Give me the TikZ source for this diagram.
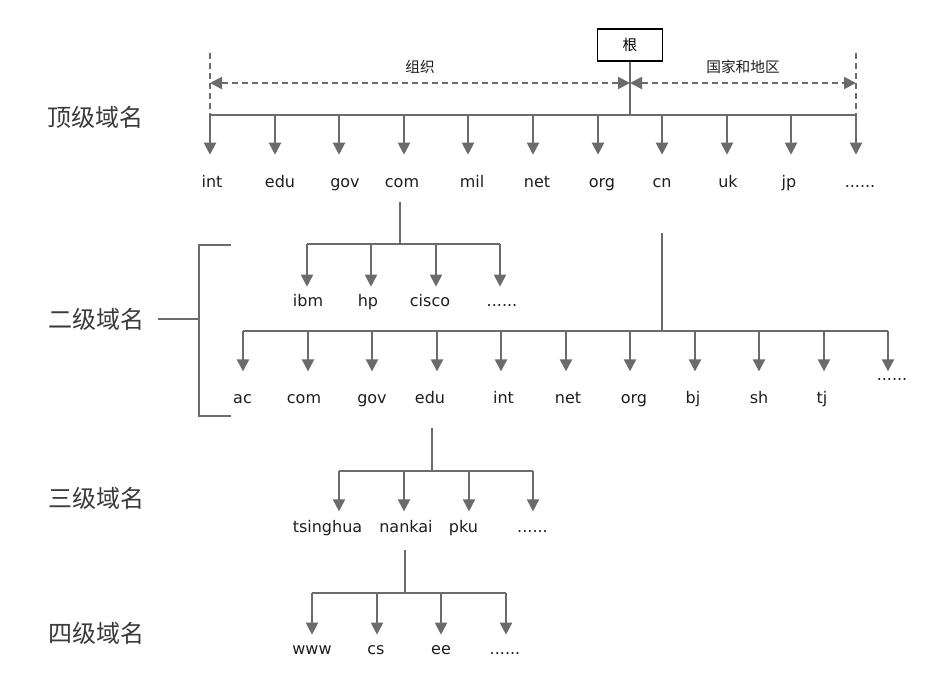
\documentclass[tikz,border=0pt]{standalone}
\usepackage{fontspec}
\setmainfont{DejaVu Sans}
\newfontfamily\cjk{Noto Sans CJK SC}
\usetikzlibrary{calc,positioning,arrows.meta}
\definecolor{lineg}{HTML}{6B6B6B}
\definecolor{textg}{HTML}{1E1E1E}
\definecolor{levelg}{HTML}{3A3A3A}
\newcommand{\sixdots}{......}

\begin{document}
\begin{tikzpicture}[x=0.75pt,y=-0.75pt,>={Triangle[width=9pt,length=9pt]},
  line/.style={draw=lineg,line width=1.5pt},
  dashline/.style={line,dash pattern=on 4.5pt off 3pt},
  lbl/.style={font=\fontsize{12}{14}\selectfont,text=textg,inner sep=0pt,text height=8.5pt,text depth=2.5pt},
  level/.style={font=\cjk\fontsize{18}{20}\selectfont,text=levelg},
  small/.style={font=\cjk\fontsize{11}{13}\selectfont,text=textg},
  rootbox/.style={draw=black,line width=0.8pt,fill=white,minimum width=49pt,minimum height=24pt,font=\cjk\fontsize{11}{13}\selectfont}]
      \fill[white] (0,0) rectangle (928,689);
      \useasboundingbox (0,0) rectangle (928,689);

      \node[level] (lv1) at (95,117) {顶级域名};
      \node[level] (lv2) at (96,319) {二级域名};
      \node[level] (lv3) at (96,498) {三级域名};
      \node[level] (lv4) at (96,633) {四级域名};

      % top level
      \node[rootbox] (root) at (630,45) {根};
      \foreach \lab/\x [count=\i] in {int/212,edu/280,gov/345,com/402,mil/472,net/537,org/602,cn/662,uk/728,jp/789,\sixdots/860}
        \node[lbl] (t\i) at (\x,183) {\lab};
      \foreach \i in {1,...,11}
        \coordinate (tb\i) at ({round(210+64.6*(\i-1))},115);
      \coordinate (rj) at (root.south |- tb1);
      \draw[line] (root) -- (rj);
      \draw[line] (tb1) -- (tb11);
      \foreach \i in {1,...,11}
        \draw[line,->,shorten >=15.5pt] (tb\i) -- (tb\i |- t\i.north);

      \coordinate (dl) at (210,53);
      \coordinate (dr) at (856,53);
      \coordinate (da) at (210,83);
      \coordinate (db) at (rj |- da);
      \coordinate (dc) at (856,83);
      \draw[dashline] (dl) -- (tb1);
      \draw[dashline] (dr) -- (tb11);
      \draw[dashline,<->] (da) -- node[small,midway,yshift=12pt]{组织} (db);
      \draw[dashline,<->] (db) -- node[small,midway,yshift=12pt]{国家和地区} (dc);

      % second level
      \coordinate (c0) at (400,244);
      \draw[line,shorten <=8.5pt] (c0 |- t4.south) -- (c0);
      \foreach \lab/\x [count=\i] in {ibm/308,hp/368,cisco/430,\sixdots/502}
        \node[lbl] (c\i) at (\x,302) {\lab};
      \foreach \i in {1,...,4}
        \coordinate (cb\i) at ({round(306.5+64.5*(\i-1))},244);
      \draw[line] (cb1) -- (cb4);
      \foreach \i in {1,...,4}
        \draw[line,->,shorten >=5.8pt] (cb\i) -- (cb\i |- c\i.north);

      \coordinate (n0) at (662,331);
      \draw[line,shorten <=32pt] (n0 |- t8.south) -- (n0);
      \foreach \lab/\x [count=\i] in {ac/242.5,com/304,gov/372,edu/430,int/503.5,net/568,org/634,bj/693,sh/759,tj/822}
        \node[lbl] (s\i) at (\x,399) {\lab};
      \node[lbl] (s11) at (892,376) {\sixdots};
      \foreach \i in {1,...,11}
        \coordinate (sb\i) at ({round(243+64.5*(\i-1))},331);
      \draw[line] (sb1) -- (sb11);
      \foreach \i in {1,...,10}
        \draw[line,->,shorten >=15pt] (sb\i) -- (sb\i |- s\i.north);
      \draw[line,->,shorten >=-2.2pt] (sb11) -- (sb11 |- s11.north);

      \coordinate (bm) at (199,319);
      \coordinate (bt) at (231,245);
      \coordinate (bb) at (231,416);
      \draw[line] (bt) -- (bt -| bm) -- (bb -| bm) -- (bb);
      \draw[line,shorten <=7.3pt] (lv2.east) -- (bm);

      % third level
      \coordinate (e0) at (432,471);
      \draw[line,shorten <=16.3pt] (e0 |- s4.south) -- (e0);
      \foreach \lab/\x [count=\i] in {tsinghua/327.5,nankai/406,pku/463.5,\sixdots/532.5}
        \node[lbl] (u\i) at (\x,528) {\lab};
      \foreach \i in {1,...,4}
        \coordinate (ub\i) at ({round(339+64.8*(\i-1))},471);
      \draw[line] (ub1) -- (ub4);
      \foreach \i in {1,...,4}
        \draw[line,->,shorten >=6.75pt] (ub\i) -- (ub\i |- u\i.north);

      % fourth level
      \coordinate (k0) at (405,593);
      \draw[line,shorten <=11pt] (k0 |- u2.south) -- (k0);
      \foreach \lab/\x [count=\i] in {www/312,cs/376,ee/441,\sixdots/505}
        \node[lbl] (w\i) at (\x,650) {\lab};
      \foreach \i in {1,...,4}
        \coordinate (wb\i) at ({round(312+64.5*(\i-1))},593);
      \draw[line] (wb1) -- (wb4);
      \foreach \i in {1,...,4}
        \draw[line,->,shorten >=5.8pt] (wb\i) -- (wb\i |- w\i.north);
\end{tikzpicture}
\end{document}
